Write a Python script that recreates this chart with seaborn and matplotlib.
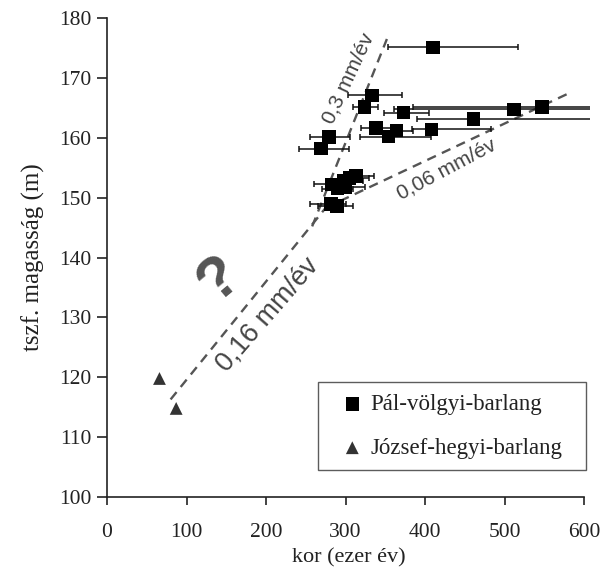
import numpy as np
import pandas as pd
import matplotlib
matplotlib.use("Agg")
import matplotlib.pyplot as plt
import seaborn as sns

# --- data ---
pal_x   = [410, 333, 324, 373, 512, 547, 461, 338, 364, 408, 354, 279, 269,
           283, 290, 298, 305, 313, 300, 282, 289]
pal_y   = [175.1, 167.1, 165.1, 164.2, 164.75, 165.1, 163.1, 161.6, 161.2, 161.4,
           160.2, 160.1, 158.2, 152.2, 151.5, 152.8, 153.3, 153.6, 151.7, 148.9, 148.6]
pal_lo  = [353, 303, 309, 348, 361, 385, 390, 319, 345, 384, 318, 255, 241,
           260, 270, 285, 295, 300, 280, 255, 265]
pal_hi  = [517, 371, 341, 405, 650, 650, 650, 360, 385, 483, 408, 306, 304,
           300, 310, 322, 330, 336, 325, 300, 310]

jozsef_x = [66, 87]
jozsef_y = [119.8, 114.8]

line016_x = [80, 275]
line016_y = [116.3, 148.3]
line03_x = [258, 352]
line03_y = [145.2, 176.5]
line006_x = [275, 585]
line006_y = [148.3, 167.7]

series_names = ["Pál-völgyi-barlang", "József-hegyi-barlang"]
xticks = [0, 100, 200, 300, 400, 500, 600]
yticks = [100, 110, 120, 130, 140, 150, 160, 170, 180]

# --- style ---
sns.set_style("ticks")
plt.rcParams["font.family"] = ["Liberation Serif", "DejaVu Serif"]

fig = plt.figure(figsize=(6.11, 5.78), dpi=100)
ax = fig.add_axes([0.1751, 0.1401, 0.790, 0.8287])

df_pal = pd.DataFrame({"x": pal_x, "y": pal_y, "lo": pal_lo, "hi": pal_hi})
df_joz = pd.DataFrame({"x": jozsef_x, "y": jozsef_y})

line_kw = dict(color="#555555", lw=1.7, dashes=(4, 2.8), zorder=1)
ax.plot(line016_x, line016_y, **line_kw)
ax.plot(line03_x, line03_y, **line_kw)
ax.plot(line006_x, line006_y, **line_kw)

ax.errorbar(df_pal["x"], df_pal["y"],
            xerr=[df_pal["x"] - df_pal["lo"], df_pal["hi"] - df_pal["x"]],
            fmt="none", ecolor="#111111", elinewidth=1.1, capsize=2.3,
            capthick=1.1, zorder=2)

sns.scatterplot(data=df_pal, x="x", y="y", marker="s", s=95, color="black",
                edgecolor="none", ax=ax, zorder=4, label=series_names[0])
sns.scatterplot(data=df_joz, x="x", y="y", marker="^", s=85, color="#333333",
                edgecolor="none", ax=ax, zorder=4, label=series_names[1])

ax.set_xlim(0, 607)
ax.set_ylim(100, 180)
ax.set_xticks(xticks)
ax.set_yticks(yticks)
sns.despine(ax=ax)
ax.spines["bottom"].set_bounds(0, 600)
for s in ["left", "bottom"]:
    ax.spines[s].set_linewidth(1.2)
    ax.spines[s].set_color("#222222")
ax.tick_params(axis="y", direction="out", length=7, width=1.2, pad=4,
               labelsize=15.5, colors="#222222")
ax.tick_params(axis="x", direction="out", length=5.5, width=1.2, pad=13,
               labelsize=15.5, colors="#222222")
ax.set_xlabel("kor (ezer év)", fontsize=16, color="#222222", labelpad=5)
ax.set_ylabel("tszf. magasság (m)", fontsize=18, color="#222222", labelpad=10)

sans = ["Liberation Sans", "DejaVu Sans"]
ax.text(304, 170.0, "0,3 mm/év", rotation=65, ha="center", va="center",
        fontsize=15, color="#444444", family=sans, rotation_mode="anchor")
ax.text(427, 154.8, "0,06 mm/év", rotation=28, ha="center", va="center",
        fontsize=15, color="#444444", family=sans, rotation_mode="anchor")
ax.text(202, 130.4, "0,16 mm/év", rotation=49, ha="center", va="center",
        fontsize=19.5, color="#444444", family=sans, rotation_mode="anchor")
ax.text(141, 136.2, "?", rotation=40, ha="center", va="center",
        fontsize=44, fontweight="bold", color="#555555", family=sans,
        rotation_mode="anchor")

leg = ax.legend(loc="lower left", bbox_to_anchor=(0.437, 0.056, 0.556, 0.192),
                mode="expand", frameon=True, fancybox=False, fontsize=16.5,
                borderpad=0.5, labelspacing=1.0, handlelength=2.0,
                handletextpad=-0.2, borderaxespad=0)
leg.get_frame().set_edgecolor("#333333")
leg.get_frame().set_linewidth(1.0)
for t in leg.get_texts():
    t.set_color("#222222")

fig.savefig("out.png", dpi=100)
